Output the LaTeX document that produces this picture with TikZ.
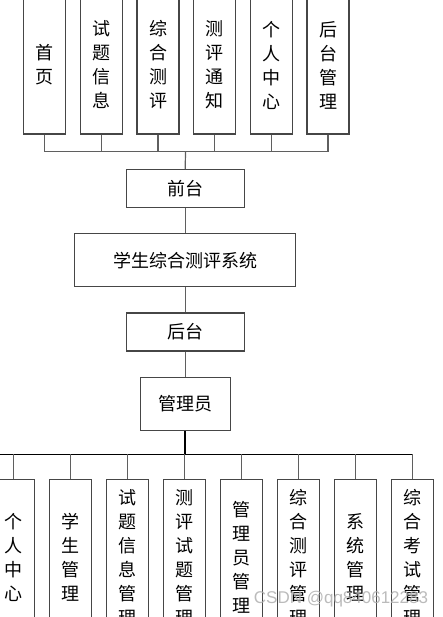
\documentclass[tikz,border=0pt]{standalone}
\usepackage{fontspec}
\usepackage{tikz}
\usetikzlibrary{calc,positioning}
\newfontfamily\cjk{Noto Sans CJK SC}
\newfontfamily\wmfont{Liberation Sans}
\definecolor{boxGray}{RGB}{70,70,70}
\definecolor{linkGray}{RGB}{95,95,95}
\definecolor{markGray}{RGB}{175,175,175}

\begin{document}
\begin{tikzpicture}[x=1pt,y=-1pt,
  mod/.style={draw=boxGray, line width=1.2pt, inner sep=0pt, align=center,
    font=\cjk\fontsize{18}{24}\selectfont},
  colbox/.style={mod, minimum width=42pt},
  link/.style={draw=linkGray, line width=1.2pt},
  busline/.style={draw=black, line width=1.2pt}]
\useasboundingbox (0,0) rectangle (442,617);

% front-end modules
\foreach \lab [count=\i] in {首\\页, 试\\题\\信\\息, 综\\合\\测\\评, 测\\评\\通\\知, 个\\人\\中\\心, 后\\台\\管\\理}
  \node[colbox, minimum height=138pt] (top\i) at ({44.7+56.67*(\i-1)},65) {\lab};

\node[mod, minimum width=118pt, minimum height=38pt] (front) at (185.2,188.8) {前台};
\node[mod, minimum width=221pt, minimum height=53pt] (sys) at (185.2,260.2) {学生综合测评系统};
\node[mod, minimum width=118pt, minimum height=38pt] (back) at (185.2,332) {后台};
\node[mod, minimum width=90pt, minimum height=52.6pt] (admin) at (185.2,404) {管理员};

% admin modules
\foreach \lab [count=\i] in {个\\人\\中\\心, 学\\生\\管\\理, 试\\题\\信\\息\\管\\理, 测\\评\\试\\题\\管\\理,
    管\\理\\员\\管\\理, 综\\合\\测\\评\\管\\理, 系\\统\\管\\理, 综\\合\\考\\试\\管\\理}
  \node[colbox, minimum height=157pt] (bot\i) at ({13.7+57*(\i-1)},557.7) {\lab};

% links
\coordinate (fjoin) at (185.5,151.7);
\foreach \i in {1,...,6}
  \draw[link] (top\i.south) |- (fjoin);
\draw[link] (fjoin) -- (front.north);
\draw[link] (front.south) -- (sys.north);
\draw[link] (sys.south) -- (back.north);
\draw[link] (back.south) -- (admin.north);

\coordinate (bjoin) at (185.2,454.3);
\coordinate (bedge) at (-5,454.3);
\coordinate (bend) at (bot8.north |- bjoin);
\draw[busline] (bedge) -- (bend);
\draw[draw=black, line width=2pt] (admin.south) -- (bjoin);
\foreach \i in {1,...,8}
  \draw[link] (bot\i.north) -- (bot\i.north |- bjoin);

\node[text=markGray, opacity=0.85, font=\wmfont\fontsize{17}{17}\selectfont] (mark) at (341,599) {CSDN @qq840612283};
\end{tikzpicture}
\end{document}
